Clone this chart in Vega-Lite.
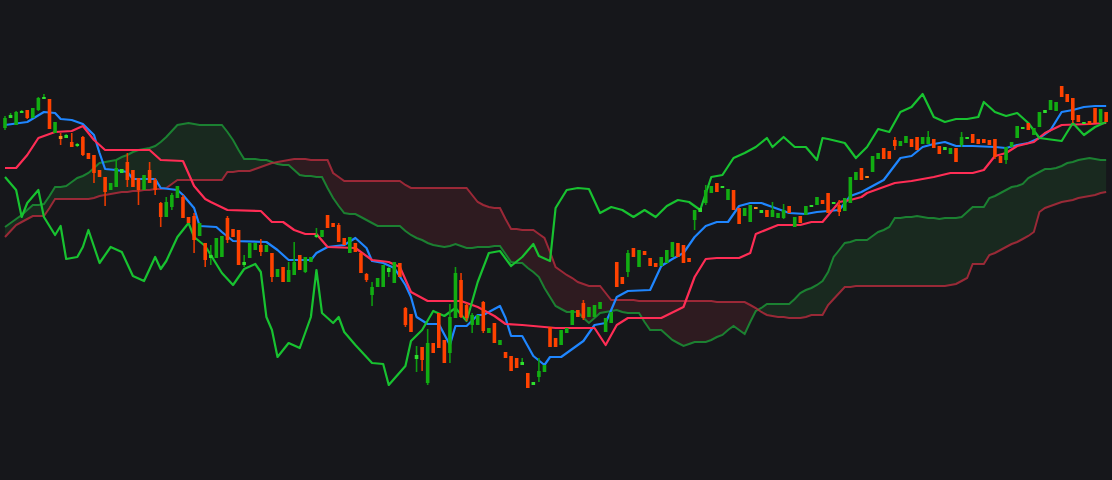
{
"$schema": "https://vega.github.io/schema/vega-lite/v6.json",
"width": 1112, "height": 480,
"autosize": {"type": "fit", "contains": "padding"},
"padding": 0,
"background": "#16171b",
"config": {"view": {"stroke": null}},
"datasets": {
"candles": [
{"i":0,"o":35.2,"h":36.4,"l":35.0,"c":36.2},{"i":1,"o":36.2,"h":36.7,"l":36.2,"c":36.5},{"i":2,"o":35.5,"h":36.9,"l":35.5,"c":36.8},{"i":3,"o":36.7,"h":37.0,"l":36.7,"c":36.9},{"i":4,"o":37.0,"h":37.0,"l":36.1,"c":36.2},{"i":5,"o":36.2,"h":37.2,"l":36.2,"c":37.2},{"i":6,"o":37.0,"h":38.3,"l":36.9,"c":38.2},{"i":7,"o":38.1,"h":38.6,"l":38.1,"c":38.3},{"i":8,"o":38.1,"h":38.1,"l":35.1,"c":35.1},{"i":9,"o":34.7,"h":35.8,"l":34.7,"c":35.8},
{"i":10,"o":34.4,"h":34.7,"l":33.5,"c":34.1},{"i":11,"o":34.2,"h":34.6,"l":34.2,"c":34.5},{"i":12,"o":33.8,"h":34.7,"l":33.3,"c":33.3},{"i":13,"o":33.4,"h":33.7,"l":33.3,"c":33.6},{"i":14,"o":34.3,"h":34.4,"l":32.4,"c":32.5},{"i":15,"o":32.7,"h":32.7,"l":32.1,"c":32.1},{"i":16,"o":32.5,"h":32.5,"l":29.7,"c":30.7},{"i":17,"o":31.0,"h":31.0,"l":30.3,"c":30.3},{"i":18,"o":30.3,"h":30.3,"l":27.4,"c":28.8},{"i":19,"o":29.0,"h":29.7,"l":29.0,"c":29.7},
{"i":20,"o":29.3,"h":32.0,"l":29.3,"c":31.2},{"i":21,"o":30.7,"h":31.1,"l":30.7,"c":31.1},{"i":22,"o":31.8,"h":32.7,"l":29.3,"c":30.0},{"i":23,"o":31.0,"h":31.0,"l":29.3,"c":29.3},{"i":24,"o":30.2,"h":30.2,"l":27.5,"c":29.0},{"i":25,"o":29.0,"h":30.5,"l":29.0,"c":30.5},{"i":26,"o":31.0,"h":31.8,"l":29.7,"c":29.7},{"i":27,"o":30.0,"h":30.2,"l":28.5,"c":29.0},{"i":28,"o":27.7,"h":27.8,"l":25.3,"c":26.3},{"i":29,"o":26.3,"h":28.3,"l":26.3,"c":27.8},
{"i":30,"o":27.3,"h":28.7,"l":27.0,"c":28.5},{"i":31,"o":28.2,"h":29.4,"l":28.2,"c":29.4},{"i":32,"o":28.3,"h":28.5,"l":26.2,"c":26.2},{"i":33,"o":26.3,"h":26.3,"l":25.7,"c":25.7},{"i":34,"o":26.4,"h":26.7,"l":22.7,"c":24.0},{"i":35,"o":24.4,"h":25.7,"l":24.4,"c":25.7},{"i":36,"o":23.7,"h":23.7,"l":21.3,"c":22.0},{"i":37,"o":22.2,"h":23.5,"l":21.5,"c":22.5},{"i":38,"o":22.2,"h":24.2,"l":22.2,"c":24.2},{"i":39,"o":22.3,"h":24.4,"l":22.3,"c":24.4},
{"i":40,"o":26.2,"h":26.4,"l":23.7,"c":24.0},{"i":41,"o":25.1,"h":25.1,"l":24.3,"c":24.3},{"i":42,"o":25.0,"h":25.0,"l":21.5,"c":21.5},{"i":43,"o":21.5,"h":22.5,"l":21.3,"c":21.8},{"i":44,"o":22.2,"h":23.7,"l":22.2,"c":23.7},{"i":45,"o":23.0,"h":23.7,"l":23.0,"c":23.7},{"i":46,"o":23.5,"h":24.1,"l":22.4,"c":22.8},{"i":47,"o":22.8,"h":23.5,"l":22.8,"c":23.5},{"i":48,"o":22.7,"h":22.7,"l":19.8,"c":20.3},{"i":49,"o":20.3,"h":21.1,"l":20.3,"c":21.1},
{"i":50,"o":21.3,"h":21.3,"l":19.8,"c":19.8},{"i":51,"o":19.8,"h":21.8,"l":19.8,"c":21.0},{"i":52,"o":20.5,"h":23.8,"l":20.5,"c":21.8},{"i":53,"o":22.5,"h":22.5,"l":21.0,"c":21.0},{"i":54,"o":20.8,"h":22.3,"l":20.7,"c":22.3},{"i":55,"o":21.8,"h":22.3,"l":21.8,"c":22.3},{"i":56,"o":24.3,"h":25.2,"l":24.2,"c":24.5},{"i":57,"o":24.3,"h":25.0,"l":24.3,"c":25.0},{"i":58,"o":26.5,"h":26.5,"l":25.2,"c":25.2},{"i":59,"o":25.7,"h":25.7,"l":25.3,"c":25.3},
{"i":60,"o":25.5,"h":25.7,"l":23.8,"c":23.8},{"i":61,"o":24.2,"h":24.2,"l":23.5,"c":23.5},{"i":62,"o":22.7,"h":24.3,"l":22.7,"c":24.3},{"i":63,"o":23.7,"h":23.7,"l":22.8,"c":22.8},{"i":64,"o":22.7,"h":22.7,"l":20.7,"c":20.7},{"i":65,"o":20.6,"h":20.7,"l":19.8,"c":20.0},{"i":66,"o":18.5,"h":19.8,"l":17.4,"c":19.3},{"i":67,"o":19.3,"h":20.2,"l":19.3,"c":20.2},{"i":68,"o":19.3,"h":21.5,"l":19.3,"c":21.5},{"i":69,"o":20.8,"h":21.3,"l":20.3,"c":21.2},
{"i":70,"o":19.7,"h":21.8,"l":19.7,"c":21.8},{"i":71,"o":21.7,"h":21.7,"l":20.3,"c":20.3},{"i":72,"o":17.2,"h":17.3,"l":15.3,"c":15.5},{"i":73,"o":16.6,"h":16.6,"l":14.8,"c":14.8},{"i":74,"o":12.1,"h":13.4,"l":10.8,"c":12.5},{"i":75,"o":13.3,"h":13.3,"l":10.9,"c":12.0},{"i":76,"o":9.7,"h":15.1,"l":9.5,"c":13.7},{"i":77,"o":13.7,"h":13.7,"l":12.7,"c":12.7},{"i":78,"o":16.7,"h":16.7,"l":13.2,"c":13.2},{"i":79,"o":14.0,"h":14.0,"l":11.7,"c":11.7},
{"i":80,"o":12.7,"h":17.6,"l":11.7,"c":16.3},{"i":81,"o":16.2,"h":21.3,"l":16.2,"c":20.7},{"i":82,"o":20.0,"h":20.7,"l":16.2,"c":16.3},{"i":83,"o":17.5,"h":17.7,"l":15.9,"c":16.2},{"i":84,"o":15.5,"h":16.7,"l":14.7,"c":16.5},{"i":85,"o":15.5,"h":16.5,"l":15.5,"c":16.5},{"i":86,"o":17.8,"h":17.9,"l":14.7,"c":14.9},{"i":87,"o":14.7,"h":15.2,"l":14.7,"c":15.2},{"i":88,"o":15.7,"h":15.7,"l":13.7,"c":13.7},{"i":89,"o":13.5,"h":14.0,"l":13.5,"c":14.0},
{"i":90,"o":12.8,"h":12.8,"l":12.2,"c":12.2},{"i":91,"o":12.4,"h":12.4,"l":10.9,"c":10.9},{"i":92,"o":12.2,"h":12.2,"l":11.2,"c":11.2},{"i":93,"o":11.5,"h":12.2,"l":11.5,"c":11.8},{"i":94,"o":10.7,"h":10.7,"l":9.2,"c":9.2},{"i":95,"o":9.5,"h":9.8,"l":9.5,"c":9.8},{"i":96,"o":10.3,"h":12.2,"l":9.8,"c":10.9},{"i":97,"o":10.8,"h":11.5,"l":10.8,"c":11.5},{"i":98,"o":15.3,"h":15.3,"l":13.3,"c":13.3},{"i":99,"o":14.2,"h":14.2,"l":13.3,"c":13.3},
{"i":100,"o":13.5,"h":15.0,"l":13.5,"c":15.0},{"i":101,"o":14.7,"h":15.2,"l":14.7,"c":15.2},{"i":102,"o":15.5,"h":17.0,"l":15.5,"c":17.0},{"i":103,"o":17.0,"h":17.0,"l":16.3,"c":16.3},{"i":104,"o":17.7,"h":18.0,"l":16.0,"c":16.2},{"i":105,"o":16.3,"h":17.3,"l":16.3,"c":17.3},{"i":106,"o":16.3,"h":17.5,"l":16.3,"c":17.5},{"i":107,"o":17.1,"h":17.8,"l":17.1,"c":17.8},{"i":108,"o":14.8,"h":16.2,"l":14.8,"c":16.2},{"i":109,"o":15.7,"h":16.8,"l":15.7,"c":16.8},
{"i":110,"o":21.8,"h":21.8,"l":19.3,"c":19.3},{"i":111,"o":20.3,"h":20.3,"l":19.6,"c":19.6},{"i":112,"o":20.8,"h":23.0,"l":20.3,"c":22.7},{"i":113,"o":23.2,"h":23.2,"l":22.3,"c":22.3},{"i":114,"o":21.3,"h":23.0,"l":21.3,"c":23.0},{"i":115,"o":22.9,"h":22.9,"l":22.5,"c":22.5},{"i":116,"o":22.2,"h":22.2,"l":21.4,"c":21.4},{"i":117,"o":21.7,"h":21.7,"l":21.3,"c":21.3},{"i":118,"o":21.4,"h":22.3,"l":21.4,"c":22.3},{"i":119,"o":21.7,"h":23.0,"l":21.7,"c":23.0},
{"i":120,"o":22.3,"h":23.8,"l":22.3,"c":23.8},{"i":121,"o":23.7,"h":23.7,"l":22.3,"c":22.3},{"i":122,"o":23.5,"h":23.5,"l":21.7,"c":21.7},{"i":123,"o":22.2,"h":22.2,"l":21.8,"c":21.8},{"i":124,"o":26.0,"h":27.0,"l":25.0,"c":27.0},{"i":125,"o":26.8,"h":27.2,"l":26.8,"c":27.2},{"i":126,"o":27.7,"h":29.5,"l":27.5,"c":29.0},{"i":127,"o":28.7,"h":29.4,"l":28.7,"c":29.4},{"i":128,"o":29.7,"h":29.7,"l":28.8,"c":28.8},{"i":129,"o":29.2,"h":29.4,"l":29.2,"c":29.4},
{"i":130,"o":28.0,"h":29.1,"l":28.0,"c":29.1},{"i":131,"o":29.0,"h":29.0,"l":27.0,"c":27.0},{"i":132,"o":27.2,"h":27.2,"l":25.6,"c":25.6},{"i":133,"o":26.4,"h":27.2,"l":26.4,"c":27.2},{"i":134,"o":25.8,"h":27.5,"l":25.8,"c":27.5},{"i":135,"o":27.3,"h":27.3,"l":27.1,"c":27.1},{"i":136,"o":26.7,"h":27.0,"l":26.7,"c":27.0},{"i":137,"o":27.0,"h":27.0,"l":26.3,"c":26.3},{"i":138,"o":26.3,"h":27.8,"l":26.3,"c":27.0},{"i":139,"o":26.2,"h":26.7,"l":26.2,"c":26.7},
{"i":140,"o":26.2,"h":27.6,"l":26.1,"c":27.0},{"i":141,"o":27.4,"h":27.4,"l":26.7,"c":26.7},{"i":142,"o":25.3,"h":26.3,"l":25.3,"c":26.3},{"i":143,"o":26.4,"h":26.4,"l":25.7,"c":25.7},{"i":144,"o":26.5,"h":27.4,"l":26.5,"c":27.4},{"i":145,"o":27.3,"h":27.5,"l":27.3,"c":27.5},{"i":146,"o":27.5,"h":28.3,"l":27.5,"c":28.3},{"i":147,"o":28.0,"h":28.0,"l":27.6,"c":27.6},{"i":148,"o":28.7,"h":28.7,"l":26.7,"c":26.7},{"i":149,"o":27.6,"h":27.8,"l":27.6,"c":27.8},
{"i":150,"o":27.5,"h":28.0,"l":26.4,"c":26.8},{"i":151,"o":26.9,"h":28.2,"l":26.9,"c":28.2},{"i":152,"o":27.7,"h":30.3,"l":27.7,"c":30.3},{"i":153,"o":30.0,"h":30.8,"l":30.0,"c":30.8},{"i":154,"o":31.2,"h":31.2,"l":30.0,"c":30.0},{"i":155,"o":30.4,"h":30.4,"l":30.2,"c":30.2},{"i":156,"o":30.8,"h":32.4,"l":30.8,"c":32.4},{"i":157,"o":32.1,"h":32.7,"l":32.1,"c":32.7},{"i":158,"o":33.2,"h":33.2,"l":32.1,"c":32.1},{"i":159,"o":32.9,"h":32.9,"l":32.1,"c":32.1},
{"i":160,"o":34.0,"h":34.3,"l":33.0,"c":33.4},{"i":161,"o":33.4,"h":33.9,"l":33.4,"c":33.9},{"i":162,"o":33.7,"h":34.4,"l":33.7,"c":34.4},{"i":163,"o":34.1,"h":34.1,"l":33.3,"c":33.3},{"i":164,"o":34.3,"h":34.3,"l":33.0,"c":33.0},{"i":165,"o":33.6,"h":34.3,"l":33.6,"c":34.3},{"i":166,"o":33.6,"h":34.9,"l":33.6,"c":34.3},{"i":167,"o":34.1,"h":34.1,"l":33.2,"c":33.2},{"i":168,"o":33.4,"h":33.4,"l":32.6,"c":32.6},{"i":169,"o":33.0,"h":33.3,"l":33.0,"c":33.3},
{"i":170,"o":32.6,"h":33.2,"l":32.6,"c":33.2},{"i":171,"o":33.2,"h":33.2,"l":31.8,"c":31.8},{"i":172,"o":33.5,"h":34.8,"l":33.3,"c":34.3},{"i":173,"o":34.1,"h":34.3,"l":34.1,"c":34.3},{"i":174,"o":34.6,"h":34.6,"l":33.7,"c":33.7},{"i":175,"o":34.1,"h":34.1,"l":33.6,"c":33.6},{"i":176,"o":34.1,"h":34.1,"l":33.7,"c":33.7},{"i":177,"o":34.0,"h":34.0,"l":33.5,"c":33.5},{"i":178,"o":34.1,"h":34.1,"l":32.1,"c":32.3},{"i":179,"o":32.4,"h":32.4,"l":31.7,"c":31.7},
{"i":180,"o":32.0,"h":33.3,"l":31.6,"c":33.3},{"i":181,"o":33.3,"h":33.8,"l":33.3,"c":33.8},{"i":182,"o":34.2,"h":35.4,"l":34.2,"c":35.4},{"i":183,"o":35.1,"h":35.3,"l":35.1,"c":35.3},{"i":184,"o":35.7,"h":35.7,"l":35.0,"c":35.0},{"i":185,"o":34.5,"h":35.2,"l":34.5,"c":35.2},{"i":186,"o":35.3,"h":36.8,"l":35.3,"c":36.8},{"i":187,"o":36.7,"h":37.0,"l":36.7,"c":37.0},{"i":188,"o":37.0,"h":38.0,"l":37.0,"c":38.0},{"i":189,"o":36.9,"h":37.8,"l":36.9,"c":37.8},
{"i":190,"o":39.4,"h":39.4,"l":38.3,"c":38.3},{"i":191,"o":38.6,"h":38.6,"l":37.8,"c":37.8},{"i":192,"o":38.2,"h":38.2,"l":35.7,"c":36.0},{"i":193,"o":36.5,"h":36.5,"l":35.8,"c":35.8},{"i":194,"o":35.6,"h":35.8,"l":35.6,"c":35.8},{"i":195,"o":35.9,"h":35.9,"l":35.5,"c":35.5},{"i":196,"o":37.2,"h":37.2,"l":35.7,"c":35.7},{"i":197,"o":35.7,"h":37.1,"l":35.7,"c":37.1},{"i":198,"o":36.8,"h":36.8,"l":35.8,"c":35.8}
],
"cloud": [
{"i":0,"a":25.3,"b":24.3,"seg":1},{"i":1,"a":25.7,"b":24.9,"seg":1},{"i":2,"a":26.1,"b":25.5,"seg":1},{"i":3,"a":26.5,"b":25.8,"seg":1},{"i":4,"a":27.0,"b":26.1,"seg":1},{"i":5,"a":27.5,"b":26.4,"seg":1},{"i":6,"a":27.5,"b":26.4,"seg":1},{"i":7,"a":27.6,"b":26.4,"seg":1},{"i":8,"a":28.4,"b":27.2,"seg":1},{"i":9,"a":29.3,"b":28.1,"seg":1},
{"i":10,"a":29.3,"b":28.1,"seg":1},{"i":11,"a":29.4,"b":28.1,"seg":1},{"i":12,"a":29.8,"b":28.1,"seg":1},{"i":13,"a":30.2,"b":28.1,"seg":1},{"i":14,"a":30.4,"b":28.1,"seg":1},{"i":15,"a":30.7,"b":28.1,"seg":1},{"i":16,"a":31.2,"b":28.2,"seg":1},{"i":17,"a":31.7,"b":28.4,"seg":1},{"i":18,"a":31.8,"b":28.5,"seg":1},{"i":19,"a":31.9,"b":28.6,"seg":1},
{"i":20,"a":32.0,"b":28.7,"seg":1},{"i":21,"a":32.3,"b":28.8,"seg":1},{"i":22,"a":32.5,"b":28.8,"seg":1},{"i":23,"a":32.8,"b":28.9,"seg":1},{"i":24,"a":33.0,"b":28.9,"seg":1},{"i":25,"a":33.1,"b":29.0,"seg":1},{"i":26,"a":33.2,"b":29.0,"seg":1},{"i":27,"a":33.4,"b":29.1,"seg":1},{"i":28,"a":33.8,"b":29.1,"seg":1},{"i":29,"a":34.3,"b":29.2,"seg":1},
{"i":30,"a":34.9,"b":29.6,"seg":1},{"i":31,"a":35.5,"b":30.0,"seg":1},{"i":32,"a":35.6,"b":30.0,"seg":1},{"i":33,"a":35.7,"b":30.0,"seg":1},{"i":34,"a":35.6,"b":30.0,"seg":1},{"i":35,"a":35.5,"b":30.0,"seg":1},{"i":36,"a":35.5,"b":30.0,"seg":1},{"i":37,"a":35.5,"b":30.0,"seg":1},{"i":38,"a":35.5,"b":30.0,"seg":1},{"i":39,"a":35.5,"b":30.0,"seg":1},
{"i":40,"a":34.8,"b":30.8,"seg":1},{"i":41,"a":34.0,"b":30.8,"seg":1},{"i":42,"a":33.0,"b":30.9,"seg":1},{"i":43,"a":32.1,"b":30.9,"seg":1},{"i":44,"a":32.1,"b":30.9,"seg":1},{"i":45,"a":32.1,"b":31.1,"seg":1},{"i":46,"a":32.0,"b":31.3,"seg":1},{"i":47,"a":32.0,"b":31.5,"seg":1},{"i":48,"a":31.8,"b":31.7,"seg":1},{"i":48.33,"a":31.73,"b":31.73,"seg":1},
{"i":48.33,"a":31.73,"b":31.73,"seg":2},{"i":49,"a":31.6,"b":31.8,"seg":2},
{"i":50,"a":31.5,"b":31.9,"seg":2},{"i":51,"a":31.5,"b":32.0,"seg":2},{"i":52,"a":31.0,"b":32.1,"seg":2},{"i":53,"a":30.5,"b":32.1,"seg":2},{"i":54,"a":30.4,"b":32.1,"seg":2},{"i":55,"a":30.4,"b":32.0,"seg":2},{"i":56,"a":30.3,"b":32.0,"seg":2},{"i":57,"a":30.3,"b":32.0,"seg":2},{"i":58,"a":29.2,"b":32.0,"seg":2},{"i":59,"a":28.2,"b":30.7,"seg":2},
{"i":60,"a":27.4,"b":30.3,"seg":2},{"i":61,"a":26.7,"b":29.9,"seg":2},{"i":62,"a":26.6,"b":29.9,"seg":2},{"i":63,"a":26.6,"b":29.9,"seg":2},{"i":64,"a":26.3,"b":29.9,"seg":2},{"i":65,"a":26.0,"b":29.9,"seg":2},{"i":66,"a":25.7,"b":29.9,"seg":2},{"i":67,"a":25.4,"b":29.9,"seg":2},{"i":68,"a":25.4,"b":29.9,"seg":2},{"i":69,"a":25.4,"b":29.9,"seg":2},
{"i":70,"a":25.4,"b":29.9,"seg":2},{"i":71,"a":25.4,"b":29.9,"seg":2},{"i":72,"a":24.9,"b":29.5,"seg":2},{"i":73,"a":24.5,"b":29.2,"seg":2},{"i":74,"a":24.2,"b":29.2,"seg":2},{"i":75,"a":24.0,"b":29.2,"seg":2},{"i":76,"a":23.7,"b":29.2,"seg":2},{"i":77,"a":23.5,"b":29.2,"seg":2},{"i":78,"a":23.4,"b":29.2,"seg":2},{"i":79,"a":23.3,"b":29.2,"seg":2},
{"i":80,"a":23.4,"b":29.2,"seg":2},{"i":81,"a":23.6,"b":29.2,"seg":2},{"i":82,"a":23.4,"b":29.2,"seg":2},{"i":83,"a":23.2,"b":29.2,"seg":2},{"i":84,"a":23.2,"b":28.5,"seg":2},{"i":85,"a":23.3,"b":27.8,"seg":2},{"i":86,"a":23.3,"b":27.5,"seg":2},{"i":87,"a":23.3,"b":27.3,"seg":2},{"i":88,"a":23.4,"b":27.2,"seg":2},{"i":89,"a":23.4,"b":27.2,"seg":2},
{"i":90,"a":22.6,"b":26.1,"seg":2},{"i":91,"a":21.8,"b":25.1,"seg":2},{"i":92,"a":21.7,"b":25.1,"seg":2},{"i":93,"a":21.7,"b":25.0,"seg":2},{"i":94,"a":21.2,"b":25.0,"seg":2},{"i":95,"a":20.8,"b":25.0,"seg":2},{"i":96,"a":20.3,"b":24.6,"seg":2},{"i":97,"a":19.2,"b":24.2,"seg":2},{"i":98,"a":18.3,"b":22.8,"seg":2},{"i":99,"a":17.4,"b":21.3,"seg":2},
{"i":100,"a":17.1,"b":20.9,"seg":2},{"i":101,"a":16.8,"b":20.5,"seg":2},{"i":102,"a":16.8,"b":20.2,"seg":2},{"i":103,"a":16.8,"b":19.8,"seg":2},{"i":104,"a":16.2,"b":19.6,"seg":2},{"i":105,"a":15.7,"b":19.4,"seg":2},{"i":106,"a":16.2,"b":19.4,"seg":2},{"i":107,"a":16.7,"b":19.4,"seg":2},{"i":108,"a":16.8,"b":18.7,"seg":2},{"i":109,"a":16.9,"b":18.0,"seg":2},
{"i":110,"a":17.0,"b":18.0,"seg":2},{"i":111,"a":16.8,"b":18.0,"seg":2},{"i":112,"a":16.7,"b":18.0,"seg":2},{"i":113,"a":16.7,"b":18.0,"seg":2},{"i":114,"a":16.7,"b":17.9,"seg":2},{"i":115,"a":15.8,"b":17.9,"seg":2},{"i":116,"a":15.0,"b":17.9,"seg":2},{"i":117,"a":15.0,"b":17.9,"seg":2},{"i":118,"a":15.0,"b":17.9,"seg":2},{"i":119,"a":14.5,"b":17.9,"seg":2},
{"i":120,"a":14.0,"b":17.9,"seg":2},{"i":121,"a":13.7,"b":17.9,"seg":2},{"i":122,"a":13.4,"b":17.9,"seg":2},{"i":123,"a":13.6,"b":17.9,"seg":2},{"i":124,"a":13.8,"b":17.9,"seg":2},{"i":125,"a":13.8,"b":17.9,"seg":2},{"i":126,"a":13.8,"b":17.9,"seg":2},{"i":127,"a":14.0,"b":17.9,"seg":2},{"i":128,"a":14.3,"b":17.8,"seg":2},{"i":129,"a":14.5,"b":17.8,"seg":2},
{"i":130,"a":15.0,"b":17.8,"seg":2},{"i":131,"a":15.4,"b":17.8,"seg":2},{"i":132,"a":15.0,"b":17.8,"seg":2},{"i":133,"a":14.6,"b":17.8,"seg":2},{"i":134,"a":15.8,"b":17.5,"seg":2},{"i":135,"a":16.9,"b":17.2,"seg":2},{"i":135.43,"a":17.03,"b":17.03,"seg":2},
{"i":135.43,"a":17.03,"b":17.03,"seg":3},{"i":136,"a":17.2,"b":16.8,"seg":3},{"i":137,"a":17.6,"b":16.5,"seg":3},{"i":138,"a":17.6,"b":16.4,"seg":3},{"i":139,"a":17.6,"b":16.3,"seg":3},
{"i":140,"a":17.6,"b":16.3,"seg":3},{"i":141,"a":17.6,"b":16.2,"seg":3},{"i":142,"a":18.1,"b":16.2,"seg":3},{"i":143,"a":18.7,"b":16.2,"seg":3},{"i":144,"a":19.0,"b":16.3,"seg":3},{"i":145,"a":19.2,"b":16.5,"seg":3},{"i":146,"a":19.5,"b":16.5,"seg":3},{"i":147,"a":19.9,"b":16.5,"seg":3},{"i":148,"a":20.8,"b":17.5,"seg":3},{"i":149,"a":22.3,"b":18.1,"seg":3},
{"i":150,"a":23.0,"b":18.7,"seg":3},{"i":151,"a":23.7,"b":19.3,"seg":3},{"i":152,"a":23.8,"b":19.3,"seg":3},{"i":153,"a":24.0,"b":19.4,"seg":3},{"i":154,"a":24.0,"b":19.4,"seg":3},{"i":155,"a":24.0,"b":19.4,"seg":3},{"i":156,"a":24.4,"b":19.4,"seg":3},{"i":157,"a":24.8,"b":19.4,"seg":3},{"i":158,"a":25.0,"b":19.4,"seg":3},{"i":159,"a":25.3,"b":19.4,"seg":3},
{"i":160,"a":26.2,"b":19.4,"seg":3},{"i":161,"a":26.2,"b":19.4,"seg":3},{"i":162,"a":26.3,"b":19.4,"seg":3},{"i":163,"a":26.3,"b":19.4,"seg":3},{"i":164,"a":26.4,"b":19.4,"seg":3},{"i":165,"a":26.3,"b":19.4,"seg":3},{"i":166,"a":26.2,"b":19.4,"seg":3},{"i":167,"a":26.2,"b":19.4,"seg":3},{"i":168,"a":26.1,"b":19.4,"seg":3},{"i":169,"a":26.2,"b":19.4,"seg":3},
{"i":170,"a":26.2,"b":19.5,"seg":3},{"i":171,"a":26.2,"b":19.6,"seg":3},{"i":172,"a":26.3,"b":19.9,"seg":3},{"i":173,"a":26.8,"b":20.2,"seg":3},{"i":174,"a":27.3,"b":21.6,"seg":3},{"i":175,"a":27.3,"b":21.6,"seg":3},{"i":176,"a":27.3,"b":21.6,"seg":3},{"i":177,"a":28.2,"b":22.5,"seg":3},{"i":178,"a":28.4,"b":22.7,"seg":3},{"i":179,"a":28.7,"b":23.0,"seg":3},
{"i":180,"a":29.0,"b":23.3,"seg":3},{"i":181,"a":29.3,"b":23.6,"seg":3},{"i":182,"a":29.4,"b":23.8,"seg":3},{"i":183,"a":29.6,"b":24.1,"seg":3},{"i":184,"a":30.2,"b":24.4,"seg":3},{"i":185,"a":30.5,"b":24.8,"seg":3},{"i":186,"a":30.8,"b":26.8,"seg":3},{"i":187,"a":31.1,"b":27.2,"seg":3},{"i":188,"a":31.1,"b":27.4,"seg":3},{"i":189,"a":31.2,"b":27.6,"seg":3},
{"i":190,"a":31.4,"b":27.8,"seg":3},{"i":191,"a":31.7,"b":27.9,"seg":3},{"i":192,"a":31.8,"b":28.0,"seg":3},{"i":193,"a":32.0,"b":28.2,"seg":3},{"i":194,"a":32.1,"b":28.3,"seg":3},{"i":195,"a":32.2,"b":28.4,"seg":3},{"i":196,"a":32.1,"b":28.5,"seg":3},{"i":197,"a":32.0,"b":28.7,"seg":3},{"i":198,"a":32.0,"b":28.8,"seg":3}
],
"lines": [
{"s":"tk","i":0,"v":35.5},{"s":"tk","i":4,"v":35.8},{"s":"tk","i":7,"v":36.8},{"s":"tk","i":9,"v":36.7},{"s":"tk","i":10,"v":36.1},{"s":"tk","i":12,"v":36.0},{"s":"tk","i":14,"v":35.6},{"s":"tk","i":16,"v":34.5},{"s":"tk","i":17,"v":32.7},{"s":"tk","i":18,"v":31.1},{"s":"tk","i":20,"v":31.0},{"s":"tk","i":22,"v":30.8},{"s":"tk","i":23,"v":30.1},{"s":"tk","i":27,"v":30.1},{"s":"tk","i":28,"v":29.2},{"s":"tk","i":31,"v":29.0},{"s":"tk","i":32,"v":28.5},{"s":"tk","i":34,"v":27.2},{"s":"tk","i":35,"v":25.4},{"s":"tk","i":38,"v":25.3},{"s":"tk","i":39,"v":24.8},{"s":"tk","i":41,"v":23.9},{"s":"tk","i":47,"v":23.8},{"s":"tk","i":49,"v":23.0},{"s":"tk","i":51,"v":22.0},{"s":"tk","i":55,"v":22.0},{"s":"tk","i":56,"v":22.7},{"s":"tk","i":58,"v":23.3},{"s":"tk","i":61,"v":23.5},{"s":"tk","i":63,"v":24.2},{"s":"tk","i":65,"v":23.2},{"s":"tk","i":66,"v":21.9},{"s":"tk","i":68,"v":21.7},{"s":"tk","i":70,"v":21.2},{"s":"tk","i":72,"v":19.5},{"s":"tk","i":73,"v":18.3},{"s":"tk","i":74,"v":16.3},{"s":"tk","i":76,"v":15.6},{"s":"tk","i":78,"v":15.6},{"s":"tk","i":80,"v":13.5},{"s":"tk","i":81,"v":15.4},{"s":"tk","i":83,"v":15.4},{"s":"tk","i":85,"v":16.5},{"s":"tk","i":86,"v":16.5},{"s":"tk","i":89,"v":17.4},{"s":"tk","i":90,"v":16.2},{"s":"tk","i":91,"v":14.4},{"s":"tk","i":93,"v":14.4},{"s":"tk","i":95,"v":12.4},{"s":"tk","i":97,"v":11.5},{"s":"tk","i":98,"v":12.3},{"s":"tk","i":100,"v":12.3},{"s":"tk","i":104,"v":13.9},{"s":"tk","i":106,"v":15.5},{"s":"tk","i":108,"v":15.7},{"s":"tk","i":110,"v":18.3},{"s":"tk","i":112,"v":18.9},{"s":"tk","i":116,"v":19.0},{"s":"tk","i":118,"v":21.4},{"s":"tk","i":120,"v":22.1},{"s":"tk","i":122,"v":22.7},{"s":"tk","i":124,"v":24.3},{"s":"tk","i":126,"v":25.4},{"s":"tk","i":128,"v":25.8},{"s":"tk","i":130,"v":25.8},{"s":"tk","i":132,"v":27.4},{"s":"tk","i":134,"v":27.7},{"s":"tk","i":136,"v":27.7},{"s":"tk","i":138,"v":27.3},{"s":"tk","i":141,"v":26.7},{"s":"tk","i":144,"v":26.6},{"s":"tk","i":146,"v":26.8},{"s":"tk","i":150,"v":27.0},{"s":"tk","i":152,"v":28.4},{"s":"tk","i":154,"v":28.8},{"s":"tk","i":156,"v":29.4},{"s":"tk","i":158,"v":30.0},{"s":"tk","i":161,"v":32.2},{"s":"tk","i":163,"v":32.4},{"s":"tk","i":165,"v":33.3},{"s":"tk","i":167,"v":33.6},{"s":"tk","i":169,"v":33.8},{"s":"tk","i":171,"v":33.4},{"s":"tk","i":174,"v":33.4},{"s":"tk","i":178,"v":33.3},{"s":"tk","i":180,"v":33.2},{"s":"tk","i":182,"v":33.5},{"s":"tk","i":184,"v":33.7},{"s":"tk","i":186,"v":34.2},{"s":"tk","i":188,"v":35.0},{"s":"tk","i":190,"v":36.8},{"s":"tk","i":192,"v":37.0},{"s":"tk","i":194,"v":37.3},{"s":"tk","i":196,"v":37.4},{"s":"tk","i":198,"v":37.4},
{"s":"kj","i":0,"v":31.2},{"s":"kj","i":2,"v":31.2},{"s":"kj","i":4,"v":32.5},{"s":"kj","i":6,"v":34.2},{"s":"kj","i":8,"v":34.6},{"s":"kj","i":9,"v":34.8},{"s":"kj","i":12,"v":34.9},{"s":"kj","i":14,"v":35.4},{"s":"kj","i":16,"v":34.0},{"s":"kj","i":18,"v":33.0},{"s":"kj","i":26,"v":33.0},{"s":"kj","i":28,"v":32.0},{"s":"kj","i":32,"v":31.9},{"s":"kj","i":34,"v":29.4},{"s":"kj","i":36,"v":28.1},{"s":"kj","i":37,"v":27.8},{"s":"kj","i":40,"v":27.0},{"s":"kj","i":46,"v":26.9},{"s":"kj","i":48,"v":25.8},{"s":"kj","i":50,"v":25.8},{"s":"kj","i":52,"v":25.0},{"s":"kj","i":54,"v":24.6},{"s":"kj","i":56,"v":24.6},{"s":"kj","i":58,"v":23.3},{"s":"kj","i":63,"v":23.2},{"s":"kj","i":66,"v":22.0},{"s":"kj","i":69,"v":21.8},{"s":"kj","i":71,"v":21.3},{"s":"kj","i":73,"v":18.8},{"s":"kj","i":76,"v":17.9},{"s":"kj","i":82,"v":17.9},{"s":"kj","i":85,"v":17.3},{"s":"kj","i":88,"v":16.4},{"s":"kj","i":90,"v":15.6},{"s":"kj","i":93,"v":15.5},{"s":"kj","i":99,"v":15.2},{"s":"kj","i":106,"v":15.2},{"s":"kj","i":108,"v":13.5},{"s":"kj","i":110,"v":15.5},{"s":"kj","i":112,"v":16.2},{"s":"kj","i":118,"v":16.2},{"s":"kj","i":122,"v":17.3},{"s":"kj","i":124,"v":20.3},{"s":"kj","i":126,"v":22.1},{"s":"kj","i":128,"v":22.2},{"s":"kj","i":132,"v":22.2},{"s":"kj","i":134,"v":22.7},{"s":"kj","i":135,"v":24.6},{"s":"kj","i":139,"v":25.5},{"s":"kj","i":143,"v":25.5},{"s":"kj","i":145,"v":25.8},{"s":"kj","i":147,"v":25.8},{"s":"kj","i":150,"v":27.8},{"s":"kj","i":152,"v":28.0},{"s":"kj","i":154,"v":28.3},{"s":"kj","i":155,"v":28.7},{"s":"kj","i":157,"v":29.1},{"s":"kj","i":160,"v":29.7},{"s":"kj","i":163,"v":29.9},{"s":"kj","i":167,"v":30.3},{"s":"kj","i":170,"v":30.7},{"s":"kj","i":174,"v":30.7},{"s":"kj","i":176,"v":31.0},{"s":"kj","i":178,"v":32.4},{"s":"kj","i":180,"v":32.7},{"s":"kj","i":182,"v":33.4},{"s":"kj","i":185,"v":33.8},{"s":"kj","i":187,"v":34.7},{"s":"kj","i":190,"v":35.5},{"s":"kj","i":195,"v":35.6},{"s":"kj","i":198,"v":35.7},
{"s":"ck","i":0,"v":30.3},{"s":"ck","i":2,"v":29.0},{"s":"ck","i":3,"v":26.3},{"s":"ck","i":4,"v":27.7},{"s":"ck","i":6,"v":29.0},{"s":"ck","i":7,"v":26.3},{"s":"ck","i":9,"v":24.5},{"s":"ck","i":10,"v":25.4},{"s":"ck","i":11,"v":22.1},{"s":"ck","i":13,"v":22.3},{"s":"ck","i":14,"v":23.3},{"s":"ck","i":15,"v":25.0},{"s":"ck","i":17,"v":21.7},{"s":"ck","i":19,"v":23.3},{"s":"ck","i":21,"v":22.8},{"s":"ck","i":23,"v":20.4},{"s":"ck","i":25,"v":19.9},{"s":"ck","i":27,"v":22.3},{"s":"ck","i":28,"v":21.1},{"s":"ck","i":29,"v":21.9},{"s":"ck","i":31,"v":24.3},{"s":"ck","i":33,"v":25.7},{"s":"ck","i":34,"v":24.3},{"s":"ck","i":36,"v":23.4},{"s":"ck","i":39,"v":20.7},{"s":"ck","i":41,"v":19.5},{"s":"ck","i":43,"v":21.1},{"s":"ck","i":45,"v":21.6},{"s":"ck","i":46,"v":20.8},{"s":"ck","i":47,"v":16.3},{"s":"ck","i":48,"v":15.0},{"s":"ck","i":49,"v":12.3},{"s":"ck","i":51,"v":13.7},{"s":"ck","i":53,"v":13.2},{"s":"ck","i":55,"v":16.3},{"s":"ck","i":56,"v":21.0},{"s":"ck","i":57,"v":16.7},{"s":"ck","i":59,"v":15.7},{"s":"ck","i":60,"v":16.3},{"s":"ck","i":61,"v":14.8},{"s":"ck","i":63,"v":13.5},{"s":"ck","i":66,"v":11.7},{"s":"ck","i":68,"v":11.6},{"s":"ck","i":69,"v":9.5},{"s":"ck","i":72,"v":11.4},{"s":"ck","i":73,"v":13.9},{"s":"ck","i":75,"v":15.0},{"s":"ck","i":77,"v":16.9},{"s":"ck","i":79,"v":16.4},{"s":"ck","i":81,"v":17.2},{"s":"ck","i":83,"v":15.9},{"s":"ck","i":85,"v":19.8},{"s":"ck","i":87,"v":22.7},{"s":"ck","i":89,"v":22.9},{"s":"ck","i":91,"v":21.4},{"s":"ck","i":93,"v":22.3},{"s":"ck","i":95,"v":23.6},{"s":"ck","i":96,"v":22.4},{"s":"ck","i":98,"v":21.9},{"s":"ck","i":99,"v":27.2},{"s":"ck","i":101,"v":29.0},{"s":"ck","i":103,"v":29.2},{"s":"ck","i":105,"v":29.1},{"s":"ck","i":107,"v":26.7},{"s":"ck","i":109,"v":27.3},{"s":"ck","i":111,"v":27.0},{"s":"ck","i":113,"v":26.3},{"s":"ck","i":115,"v":27.0},{"s":"ck","i":117,"v":26.3},{"s":"ck","i":119,"v":27.4},{"s":"ck","i":121,"v":28.0},{"s":"ck","i":123,"v":27.8},{"s":"ck","i":125,"v":27.0},{"s":"ck","i":127,"v":30.3},{"s":"ck","i":129,"v":30.5},{"s":"ck","i":131,"v":32.2},{"s":"ck","i":133,"v":32.7},{"s":"ck","i":135,"v":33.3},{"s":"ck","i":137,"v":34.2},{"s":"ck","i":138,"v":33.3},{"s":"ck","i":140,"v":34.3},{"s":"ck","i":142,"v":33.3},{"s":"ck","i":144,"v":33.3},{"s":"ck","i":146,"v":32.0},{"s":"ck","i":147,"v":34.2},{"s":"ck","i":148,"v":34.1},{"s":"ck","i":151,"v":33.7},{"s":"ck","i":153,"v":32.2},{"s":"ck","i":155,"v":33.3},{"s":"ck","i":157,"v":35.1},{"s":"ck","i":159,"v":34.8},{"s":"ck","i":161,"v":36.8},{"s":"ck","i":163,"v":37.3},{"s":"ck","i":165,"v":38.6},{"s":"ck","i":167,"v":36.3},{"s":"ck","i":169,"v":35.8},{"s":"ck","i":171,"v":36.1},{"s":"ck","i":173,"v":36.1},{"s":"ck","i":175,"v":36.3},{"s":"ck","i":176,"v":37.8},{"s":"ck","i":178,"v":36.8},{"s":"ck","i":180,"v":36.4},{"s":"ck","i":182,"v":36.7},{"s":"ck","i":184,"v":35.7},{"s":"ck","i":186,"v":34.2},{"s":"ck","i":190,"v":33.9},{"s":"ck","i":192,"v":35.7},{"s":"ck","i":194,"v":34.5},{"s":"ck","i":196,"v":35.3},{"s":"ck","i":198,"v":35.8}
]
},
"resolve": {"scale": {"color": "independent"}},
"layer": [
{"data": {"name": "cloud"},
 "mark": {"type": "area"},
 "encoding": {
  "x": {"field": "i", "type": "quantitative", "scale": {"domain": [0, 198.15], "nice": false, "zero": false}, "axis": null},
  "y": {"field": "a", "type": "quantitative", "scale": {"domain": [0, 48], "nice": false, "zero": false}, "axis": null},
  "y2": {"field": "b"},
  "color": {"field": "seg", "type": "nominal", "scale": {"domain": [1, 2, 3], "range": ["#19291f", "#2e1b20", "#19291f"]}, "legend": null}
 }},
{"data": {"name": "cloud"},
 "mark": {"type": "line", "strokeWidth": 2, "color": "#1c8c34", "opacity": 0.9},
 "encoding": {
  "x": {"field": "i", "type": "quantitative", "scale": {"domain": [0, 198.15], "nice": false, "zero": false}, "axis": null},
  "y": {"field": "a", "type": "quantitative", "scale": {"domain": [0, 48], "nice": false, "zero": false}, "axis": null}
 }},
{"data": {"name": "cloud"},
 "mark": {"type": "line", "strokeWidth": 2, "color": "#b02c3c", "opacity": 0.85},
 "encoding": {
  "x": {"field": "i", "type": "quantitative", "scale": {"domain": [0, 198.15], "nice": false, "zero": false}, "axis": null},
  "y": {"field": "b", "type": "quantitative", "scale": {"domain": [0, 48], "nice": false, "zero": false}, "axis": null}
 }},
{"data": {"name": "lines"},
 "mark": {"type": "line", "strokeWidth": 2.2, "strokeJoin": "round"},
 "encoding": {
  "x": {"field": "i", "type": "quantitative", "scale": {"domain": [0, 198.15], "nice": false, "zero": false}, "axis": null},
  "y": {"field": "v", "type": "quantitative", "scale": {"domain": [0, 48], "nice": false, "zero": false}, "axis": null},
  "color": {"field": "s", "type": "nominal", "scale": {"domain": ["ck", "kj", "tk"], "range": ["#18c230", "#ff2d55", "#1f86ff"]}, "legend": null}
 }},
{"data": {"name": "candles"},
 "mark": {"type": "rule", "strokeWidth": 1.6},
 "encoding": {
  "x": {"field": "i", "type": "quantitative", "scale": {"domain": [0, 198.15], "nice": false, "zero": false}, "axis": null},
  "y": {"field": "l", "type": "quantitative", "scale": {"domain": [0, 48], "nice": false, "zero": false}, "axis": null},
  "y2": {"field": "h"},
  "color": {"condition": {"test": "datum.c >= datum.o", "value": "#0e9c10"}, "value": "#e83a00"}
 }},
{"data": {"name": "candles"},
 "mark": {"type": "bar", "size": 3.6},
 "encoding": {
  "x": {"field": "i", "type": "quantitative", "scale": {"domain": [0, 198.15], "nice": false, "zero": false}, "axis": null},
  "y": {"field": "o", "type": "quantitative", "scale": {"domain": [0, 48], "nice": false, "zero": false}, "axis": null},
  "y2": {"field": "c"},
  "color": {"condition": [
    {"test": "datum.c >= datum.o && datum.c - datum.o < 0.45", "value": "#2ee02e"},
    {"test": "datum.c >= datum.o", "value": "#12ad12"},
    {"test": "datum.o - datum.c < 0.35", "value": "#ff8a1a"}
   ], "value": "#ff4200"}
 }}
]
}
